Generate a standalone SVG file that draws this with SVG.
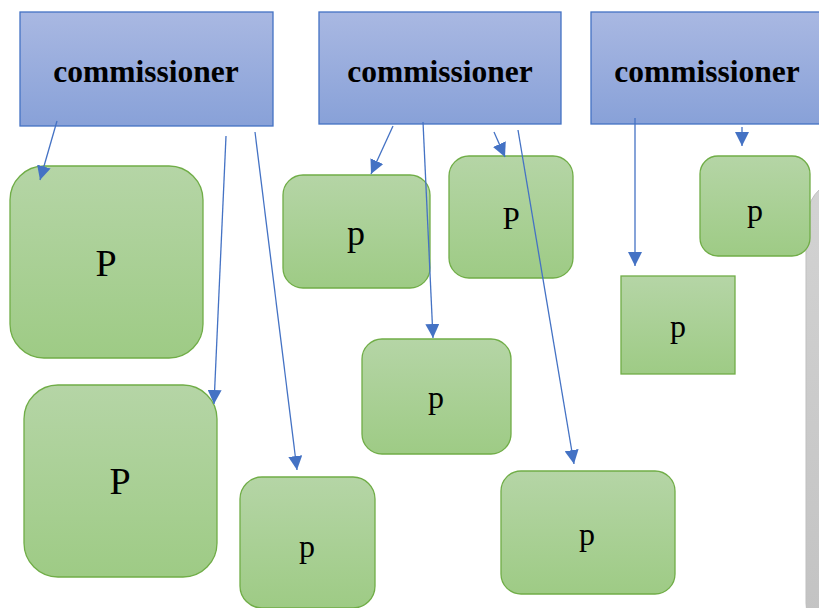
<svg xmlns="http://www.w3.org/2000/svg" width="819" height="608" viewBox="0 0 819 608">
<defs>
<linearGradient id="gb" x1="0" y1="0" x2="0" y2="1"><stop offset="0" stop-color="#a9b8e2"/><stop offset="1" stop-color="#88a1d8"/></linearGradient>
<linearGradient id="gg" x1="0" y1="0" x2="0" y2="1"><stop offset="0" stop-color="#b5d5a6"/><stop offset="1" stop-color="#9ecb85"/></linearGradient>
<linearGradient id="gr" x1="0" y1="0" x2="0" y2="1"><stop offset="0" stop-color="#d3d3d3"/><stop offset="1" stop-color="#c2c2c2"/></linearGradient>
<marker id="ah" viewBox="0 0 10 10" refX="10" refY="5" markerWidth="14" markerHeight="14" markerUnits="userSpaceOnUse" orient="auto"><path d="M0,0 L10,5 L0,10 z" fill="#4472c4"/></marker>
<style>
.c{fill:url(#gb);stroke:#4472c4;stroke-width:1.3}
.n{fill:url(#gg);stroke:#70ad47;stroke-width:1.3}
text{font-family:'Liberation Serif','Times New Roman','DejaVu Serif',serif;fill:#000;text-anchor:middle}
.tc{font-weight:bold;font-size:31.5px}
.t38{font-size:38px}
.t36{font-size:36px}
.t32{font-size:32px}
.t31{font-size:31px}
.e{stroke:#4472c4;stroke-width:1.3;fill:none;marker-end:url(#ah)}
</style>
</defs>
<g id="gray"><rect x="806" y="183" width="60" height="460" rx="40" fill="url(#gr)" stroke="#bfbfbf" stroke-width="1"/></g>
<g id="c1"><rect class="c" x="20" y="12" width="253" height="114"/><text class="tc" x="146" y="82">commissioner</text></g>
<g id="c2"><rect class="c" x="319" y="12" width="242" height="112"/><text class="tc" x="440" y="82">commissioner</text></g>
<g id="c3"><rect class="c" x="591" y="12" width="240" height="112"/><text class="tc" x="707" y="82">commissioner</text></g>
<g id="nA"><rect class="n" x="10" y="166" width="193" height="192" rx="34"/><text class="t38" x="106" y="276">P</text></g>
<g id="nB"><rect class="n" x="24" y="385" width="193" height="192" rx="34"/><text class="t38" x="120" y="494">P</text></g>
<g id="nC"><rect class="n" x="283" y="175" width="147" height="113" rx="20"/><text class="t36" x="356" y="245">p</text></g>
<g id="nD"><rect class="n" x="449" y="156" width="124" height="122" rx="20"/><text class="t31" x="511" y="229">P</text></g>
<g id="nE"><rect class="n" x="362" y="339" width="149" height="115" rx="20"/><text class="t32" x="436" y="408">p</text></g>
<g id="nF"><rect class="n" x="240" y="477" width="135" height="131" rx="22"/><text class="t32" x="307" y="557">p</text></g>
<g id="nG"><rect class="n" x="501" y="471" width="174" height="123" rx="20"/><text class="t32" x="587" y="545">p</text></g>
<g id="nH"><rect class="n" x="700" y="156" width="110" height="100" rx="18"/><text class="t32" x="755" y="221">p</text></g>
<g id="nI"><rect class="n" x="621" y="276" width="114" height="98"/><text class="t32" x="678" y="337">p</text></g>
<g id="edges">
<line class="e" x1="57" y1="121" x2="40" y2="180"/>
<line class="e" x1="226" y1="136" x2="214" y2="404"/>
<line class="e" x1="255" y1="132" x2="297" y2="470"/>
<line class="e" x1="393" y1="126" x2="371" y2="174"/>
<line class="e" x1="423" y1="122" x2="433" y2="338"/>
<line class="e" x1="494" y1="132" x2="505" y2="157"/>
<line class="e" x1="518" y1="130" x2="574" y2="464"/>
<line class="e" x1="635" y1="118" x2="635" y2="266"/>
<line class="e" x1="742" y1="127" x2="742" y2="146"/>
</g>
</svg>
